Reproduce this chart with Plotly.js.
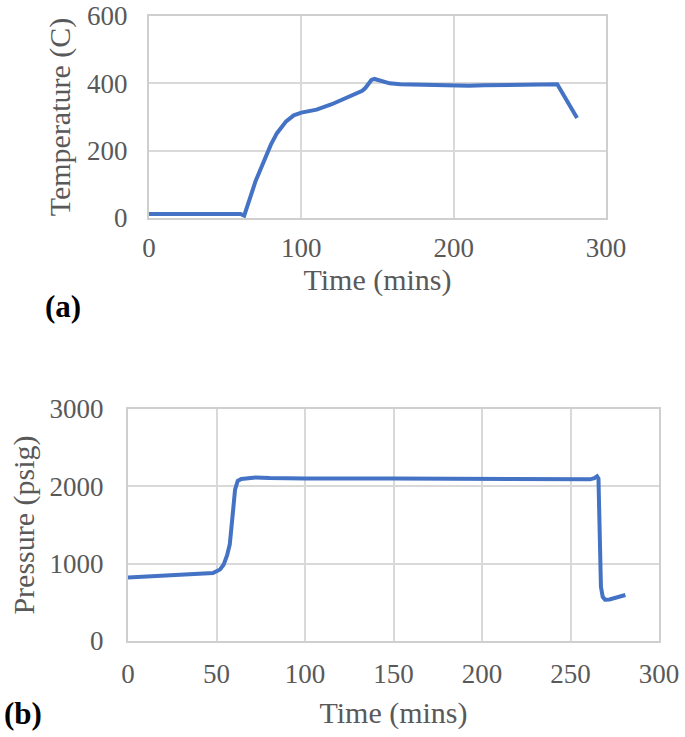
<!DOCTYPE html>
<html>
<head>
<meta charset="utf-8">
<script src="https://cdn.plot.ly/plotly-3.0.1.min.js"></script>
<style>
  html, body { margin: 0; padding: 0; background: white; }
  #chart { width: 685px; height: 737px; }
</style>
</head>
<body>
<div id="chart"></div>
<script>
// (a) temperature profile
const tempTime = [0, 10, 20, 30, 40, 50, 60, 62.5, 70, 80, 84, 90, 95, 100, 110, 120, 130, 140, 142, 146, 148, 152, 158, 165, 175, 190, 200, 210, 220, 240, 255, 268, 281];
const tempValue = [12, 12, 12, 12, 12, 12, 12, 7, 110, 218, 252, 287, 305, 313, 322, 338, 358, 378, 386, 410, 413, 407, 400, 397, 396, 395, 393, 393, 394, 395, 396, 397, 297];

// (b) pressure profile
const presTime = [0, 10, 20, 30, 40, 48, 52, 54, 56, 57.5, 59, 60.5, 62, 64, 68, 72, 80, 100, 150, 200, 250, 261, 263.5, 265, 265.8, 266.3, 266.7, 267.2, 268.2, 269.5, 272, 276, 281];
const presValue = [820, 832, 845, 857, 868, 880, 925, 985, 1110, 1250, 1600, 1960, 2070, 2095, 2105, 2115, 2108, 2102, 2100, 2098, 2095, 2090, 2105, 2130, 2100, 1700, 1000, 700, 570, 535, 538, 560, 595];

const tickVals = {
  tx: [0, 100, 200, 300],
  ty: [0, 200, 400, 600],
  px: [0, 50, 100, 150, 200, 250, 300],
  py: [0, 1000, 2000, 3000]
};

const W = 685, H = 737;
const grey = "#595959";
const serif = "Liberation Serif, Times New Roman, serif";
const tickFont = { family: serif, size: 27, color: grey };
const titleFont = { family: serif, size: 30, color: grey };

function axisBase(vals, range) {
  return {
    range: range,
    tickvals: vals,
    ticks: "",
    showgrid: true,
    gridcolor: "#d9d9d9",
    gridwidth: 2,
    zeroline: false,
    showline: true,
    linecolor: "#cfcfcf",
    linewidth: 2,
    mirror: true,
    tickfont: tickFont,
    ticklabeloverflow: "allow",
    fixedrange: true
  };
}

const traces = [
  {
    x: tempTime, y: tempValue, xaxis: "x", yaxis: "y",
    type: "scatter", mode: "lines",
    line: { color: "#4472C4", width: 4 }
  },
  {
    x: presTime, y: presValue, xaxis: "x2", yaxis: "y2",
    type: "scatter", mode: "lines",
    line: { color: "#4472C4", width: 4 }
  }
];

const layout = {
  width: W, height: H,
  margin: { l: 0, r: 0, t: 0, b: 0 },
  paper_bgcolor: "white",
  plot_bgcolor: "white",
  showlegend: false,
  xaxis: Object.assign(axisBase(tickVals.tx, [0, 300]), {
    domain: [149 / W, 606 / W], anchor: "y",
    ticklabelstandoff: 5,
    title: { text: "Time (mins)", font: titleFont, standoff: 4 }
  }),
  yaxis: Object.assign(axisBase(tickVals.ty, [0, 600]), {
    domain: [1 - 218 / H, 1 - 16 / H], anchor: "x",
    ticklabelstandoff: 14,
    title: { text: "Temperature (C)", font: titleFont, standoff: 8 }
  }),
  xaxis2: Object.assign(axisBase(tickVals.px, [0, 300]), {
    domain: [128 / W, 659 / W], anchor: "y2",
    ticklabelstandoff: 8,
    title: { text: "Time (mins)", font: titleFont, standoff: 14 }
  }),
  yaxis2: Object.assign(axisBase(tickVals.py, [0, 3000]), {
    domain: [1 - 641 / H, 1 - 409 / H], anchor: "x2",
    ticklabelstandoff: 17,
    title: { text: "Pressure (psig)", font: titleFont, standoff: 6 }
  }),
  annotations: [
    {
      text: "<b>(a)</b>", xref: "paper", yref: "paper",
      x: 63 / W, y: 1 - 306 / H, xanchor: "center", yanchor: "middle",
      showarrow: false, font: { family: serif, size: 31, color: "black" }
    },
    {
      text: "<b>(b)</b>", xref: "paper", yref: "paper",
      x: 23 / W, y: 1 - 713 / H, xanchor: "center", yanchor: "middle",
      showarrow: false, font: { family: serif, size: 31, color: "black" }
    }
  ]
};

Plotly.newPlot("chart", traces, layout, { staticPlot: true, displayModeBar: false });
</script>
</body>
</html>
